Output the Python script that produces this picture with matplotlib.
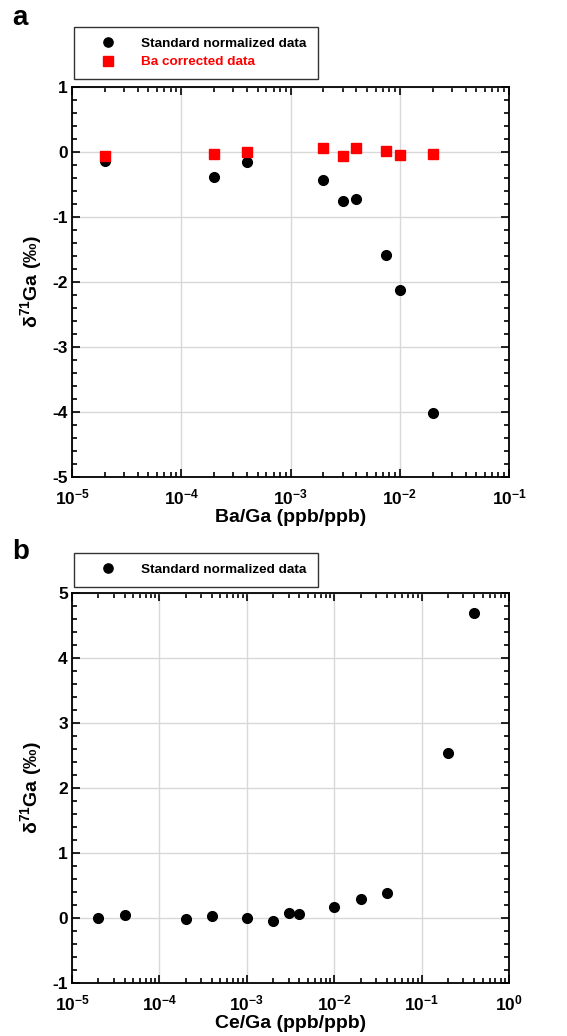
import matplotlib
matplotlib.use("Agg")
import matplotlib.pyplot as plt
from matplotlib.ticker import LogLocator, MultipleLocator, NullFormatter, FuncFormatter
import numpy as np

plt.rcParams['font.family'] = ['Liberation Sans', 'DejaVu Sans']
plt.rcParams['font.weight'] = 'bold'
plt.rcParams['axes.unicode_minus'] = False
plt.rcParams['mathtext.fontset'] = 'custom'
plt.rcParams['mathtext.rm'] = 'Liberation Sans:bold'
plt.rcParams['mathtext.bf'] = 'Liberation Sans:bold'
plt.rcParams['mathtext.it'] = 'Liberation Sans:bold:italic'

# ---- data panel a ----
ba_ga = [2e-5, 2e-4, 4e-4, 2e-3, 3e-3, 4e-3, 7.5e-3, 1e-2, 2e-2]
std_norm_a = [-0.14, -0.38, -0.16, -0.43, -0.75, -0.72, -1.58, -2.12, -4.02]
ba_corr_a = [-0.06, -0.03, 0.00, 0.06, -0.06, 0.06, 0.01, -0.05, -0.03]

# ---- data panel b ----
ce_ga = [2e-5, 4e-5, 2e-4, 4e-4, 1e-3, 2e-3, 3e-3, 4e-3, 1e-2, 2e-2, 4e-2, 2e-1, 4e-1]
std_norm_b = [0.00, 0.04, -0.02, 0.03, 0.00, -0.05, 0.07, 0.06, 0.17, 0.30, 0.39, 2.54, 4.70]

W, H = 567, 1036
fig = plt.figure(figsize=(W / 100, H / 100), dpi=100)

def fx(px):
    return px / W

def fy(py):
    return 1 - py / H

ax_a = fig.add_axes([fx(72), fy(477), fx(509) - fx(72), fy(87) - fy(477)])
ax_b = fig.add_axes([fx(72), fy(983), fx(509) - fx(72), fy(593) - fy(983)])

grid_col = '#d8d8d8'

def log_fmt(v, pos):
    e = int(round(np.log10(v)))
    return r'$\mathbf{10^{%d}}$' % e

def style(ax, xlim, ylim):
    ax.set_xscale('log')
    ax.set_xlim(*xlim)
    ax.set_ylim(*ylim)
    ax.xaxis.set_major_locator(LogLocator(base=10, numticks=20))
    ax.xaxis.set_major_formatter(FuncFormatter(log_fmt))
    ax.xaxis.set_minor_locator(LogLocator(base=10, subs=range(2, 10), numticks=20))
    ax.xaxis.set_minor_formatter(NullFormatter())
    ax.yaxis.set_major_locator(MultipleLocator(1))
    ax.yaxis.set_minor_locator(MultipleLocator(0.2))
    ax.tick_params(which='both', direction='in', top=True, right=True,
                   width=1.2, labelsize=12.5)
    ax.tick_params(axis='x', which='major', pad=7.5)
    ax.tick_params(axis='y', which='major', pad=3)
    ax.tick_params(which='major', length=6)
    ax.tick_params(which='minor', length=3.5)
    ax.grid(True, which='major', color=grid_col, linewidth=1.0)
    ax.set_axisbelow(True)
    for s in ax.spines.values():
        s.set_linewidth(1.3)
    for lab in ax.get_xticklabels() + ax.get_yticklabels():
        lab.set_fontweight('bold')

ylab = r'δ$^{\mathbf{71}}$Ga (‰)'

# panel a
ax_a.plot(ba_ga, std_norm_a, 'o', color='black', markersize=7, label='Standard normalized data', zorder=3)
ax_a.plot(ba_ga, ba_corr_a, 's', color='#ff0000', markersize=7, label='Ba corrected data', zorder=4)
style(ax_a, (1e-5, 1e-1), (-5, 1))
ax_a.set_xlabel('Ba/Ga (ppb/ppb)', fontsize=14, fontweight='bold', labelpad=1)
ax_a.set_ylabel(ylab, fontsize=14, fontweight='bold', labelpad=6)

# panel b
ax_b.plot(ce_ga, std_norm_b, 'o', color='black', markersize=7, label='Standard normalized data', zorder=3)
style(ax_b, (1e-5, 1e0), (-1, 5))
ax_b.set_xlabel('Ce/Ga (ppb/ppb)', fontsize=14, fontweight='bold', labelpad=1)
ax_b.set_ylabel(ylab, fontsize=14, fontweight='bold', labelpad=6)

def make_legend(ax, top_px):
    leg = ax.legend(loc='upper left', bbox_to_anchor=(fx(74), fy(top_px)),
                    bbox_transform=fig.transFigure, borderaxespad=0,
                    frameon=True, fancybox=False, edgecolor='black',
                    prop={'size': 9.7, 'weight': 'bold'}, handlelength=3.5,
                    handletextpad=0.7, borderpad=0.8, labelspacing=0.42,
                    markerscale=0.95)
    leg.get_frame().set_linewidth(1.0)
    leg.get_frame().set_boxstyle('square', pad=0)
    for t, h in zip(leg.get_texts(), leg.legend_handles):
        t.set_color(h.get_color())
    return leg

make_legend(ax_a, 27)
make_legend(ax_b, 553)

fig.text(fx(12), fy(18), 'a', fontsize=20, fontweight='bold', va='center', ha='left')
fig.text(fx(12), fy(552), 'b', fontsize=20, fontweight='bold', va='center', ha='left')

fig.savefig('out.png', dpi=100)
